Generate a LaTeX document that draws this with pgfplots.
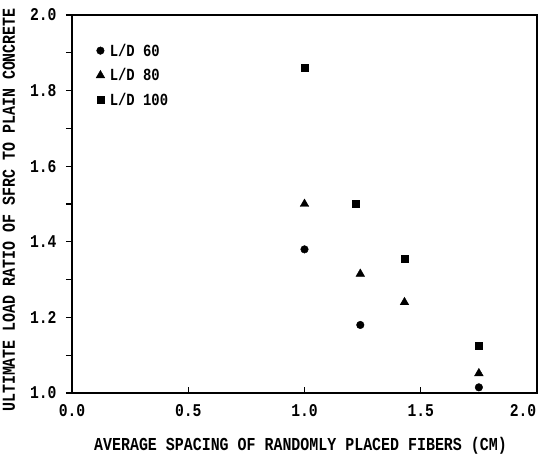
\documentclass[border=0pt]{standalone}
\usepackage{fontspec}
\newfontfamily\lab[FakeStretch=0.82]{Liberation Mono}
\usepackage{pgfplots}
\pgfplotsset{compat=1.18}
\begin{document}
\begin{tikzpicture}
\begin{axis}[
  name=ax,
  scale only axis,
  width=465bp, height=378bp,
  xmin=0, xmax=2, ymin=1, ymax=2,
  xtick={0,0.5,1,1.5},
  xticklabels={0.0,0.5,1.0,1.5},
  extra x ticks={2},
  extra x tick labels={2.0},
  extra x tick style={xticklabel style={xshift=-14bp}},
  ytick={1,1.2,1.4,1.6,1.8,2.0},
  yticklabels={1.0,1.2,1.4,1.6,1.8,2.0},
  minor ytick={1.1,1.3,1.5,1.7,1.9},
  xtick pos=bottom, ytick pos=left,
  tick align=outside,
  major tick length=6bp, minor tick length=6bp,
  x tick style={yshift=6bp},
  tick style={line width=1.2bp, black},
  axis line style={line width=1.6bp},
  ticklabel style={font=\fontsize{18}{18}\lab\bfseries},
  xticklabel style={yshift=-2bp},
  yticklabel style={xshift=-6bp},
  label style={font=\fontsize{18.3}{19}\lab\bfseries},
  xlabel={AVERAGE SPACING OF RANDOMLY PLACED FIBERS (CM)},
  ylabel={ULTIMATE LOAD RATIO OF SFRC TO PLAIN CONCRETE},
  xlabel style={yshift=-2bp, xshift=-4bp},
  ylabel style={yshift=8bp, xshift=-6bp},
  legend style={draw=none, fill=none, at={(0.045,0.935)}, anchor=north west,
    font=\fontsize{17}{17}\lab\bfseries, row sep=7bp, column sep=3bp, cells={anchor=west}},
  legend cell align=left,
]
\addplot[only marks, mark=*, mark size=3.8bp, black] coordinates {
 (1.0,1.38) (1.24,1.18) (1.75,1.015)};
\addlegendentry{L/D 60}
\addplot[only marks, mark=triangle*, mark size=5bp, black] coordinates {
 (1.0,1.50) (1.24,1.315) (1.43,1.24) (1.75,1.052)};
\addlegendentry{L/D 80}
\addplot[only marks, mark=square*, mark size=3.5bp, black] coordinates {
 (1.0,1.86) (1.22,1.50) (1.43,1.356) (1.75,1.125)};
\addlegendentry{L/D 100}
\end{axis}
\pgfresetboundingbox
\path[use as bounding box] (ax.south west) ++(-72bp,-71bp) rectangle (ax.north east) ++(11bp,15bp);
\end{tikzpicture}
\end{document}
